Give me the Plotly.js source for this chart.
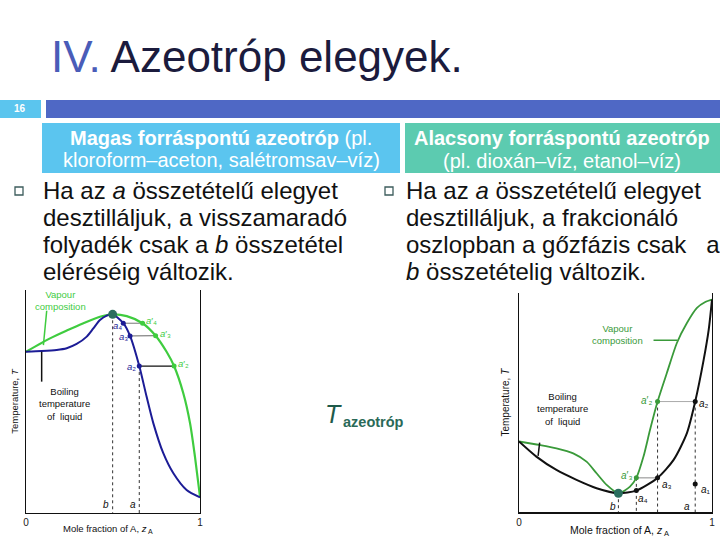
<!DOCTYPE html>
<html><head><meta charset="utf-8">
<script src="https://cdn.plot.ly/plotly-3.0.1.min.js"></script>
<style>html,body{margin:0;padding:0;background:#fff}#chart{width:720px;height:540px}</style>
</head><body><div id="chart"></div>
<script>
// ---------- data ----------
const tickVals = [0, 1];
const tickLabels = ['0', '1'];

// Left: maximum-boiling azeotrope
const leftVapX = [0, 0.138, 0.234, 0.330, 0.425, 0.498, 0.579, 0.670, 0.745, 0.808, 0.851, 0.904, 0.943, 0.971, 1.0];
const leftVapT = [0.723, 0.783, 0.818, 0.851, 0.880, 0.891, 0.883, 0.851, 0.795, 0.723, 0.659, 0.537, 0.402, 0.253, 0.073];
const leftLiqX = [0, 0.090, 0.176, 0.234, 0.291, 0.349, 0.387, 0.425, 0.464, 0.498, 0.559, 0.598, 0.651, 0.693, 0.732, 0.789, 0.847, 0.923, 1.0];
const leftLiqT = [0.723, 0.726, 0.731, 0.739, 0.758, 0.791, 0.828, 0.865, 0.885, 0.891, 0.851, 0.794, 0.659, 0.522, 0.402, 0.268, 0.178, 0.103, 0.070];
const leftAzeo = {x: 0.498, t: 0.891};
const leftLiqPtsX = [0.651, 0.598, 0.559];
const leftLiqPtsT = [0.659, 0.794, 0.851];
const leftVapPtsX = [0.851, 0.745, 0.670];
const leftVapPtsT = [0.659, 0.795, 0.851];
const leftLiqLabels = ['₂', '₃', '₄'];
const leftVapLabels = ['₂', '₃', '₄'];

// Right: minimum-boiling azeotrope
const rightLiqX = [0, 0.090, 0.194, 0.298, 0.402, 0.515, 0.608, 0.718, 0.801, 0.870, 0.913, 0.957, 0.983, 1.0];
const rightLiqT = [0.323, 0.254, 0.193, 0.148, 0.110, 0.087, 0.099, 0.157, 0.239, 0.361, 0.505, 0.696, 0.833, 0.970];
const rightVapX = [0, 0.107, 0.194, 0.281, 0.350, 0.402, 0.454, 0.515, 0.575, 0.608, 0.645, 0.679, 0.718, 0.766, 0.818, 0.870, 0.922, 0.965, 1.0];
const rightVapT = [0.323, 0.307, 0.292, 0.269, 0.231, 0.178, 0.125, 0.087, 0.117, 0.157, 0.254, 0.376, 0.505, 0.635, 0.772, 0.863, 0.932, 0.959, 0.970];
const rightAzeo = {x: 0.515, t: 0.087};
const rightLiqPtsX = [0.913, 0.718, 0.608, 0.913];
const rightLiqPtsT = [0.505, 0.157, 0.099, 0.129];
const rightLiqLabels = ['₂', '₃', '₄', '₁'];
const rightVapPtsX = [0.718, 0.608];
const rightVapPtsT = [0.505, 0.157];
const rightVapLabels = ['₂', '₃'];

// slide texts
const slideTitleBlue = 'IV.';
const slideTitleRest = 'Azeotróp elegyek.';
const slideNumber = '16';
const headLeftBold = 'Magas forráspontú azeotróp';
const headLeftRest = '(pl.';
const headLeft2 = 'kloroform–aceton, salétromsav–víz)';
const headRight1 = 'Alacsony forráspontú azeotróp';
const headRight2 = '(pl. dioxán–víz, etanol–víz)';
const bulletLeft = [['Ha az ', 'a', ' összetételű elegyet'], ['desztilláljuk, a visszamaradó'], ['folyadék csak a ', 'b', ' összetétel'], ['eléréséig változik.']];
const bulletRight = [['Ha az ', 'a', ' összetételű elegyet'], ['desztilláljuk, a frakcionáló'], ['oszlopban a gőzfázis csak\u00a0\u00a0\u00a0a'], ['', 'b', ' összetételig változik.']];
const xTitleMain = 'Mole fraction of A, ';
const xTitleVar = 'z';
const xTitleSub = 'A';
const yTitleMain = 'Temperature, ';
const yTitleVar = 'T';

// ---------- helpers ----------
const W = 720, H = 540;
const px = x => x / W, py = y => 1 - y / H;
const FONT = 'Liberation Sans, Arial, sans-serif';
const I = (s, sz) => '<i style="font-size:' + sz + 'px">' + s + '</i>';
const B = (s, sz) => '<b style="font-size:' + sz + 'px">' + s + '</b>';
const lab = (sub, prime, sz) => I('a', sz) + (prime ? '′' : '') + sub;

const GREEN_L = '#3fcc3f', BLUE_L = '#1c1c96', GREEN_R = '#3a9a3a', BLACK = '#111111', TEAL = '#2a6e5e';

const traces = [];
function line(xs, ys, color, width, dash, ax) {
  traces.push({x: xs, y: ys, mode: 'lines', type: 'scatter', xaxis: ax[0], yaxis: ax[1],
    line: {color: color, width: width, dash: dash || 'solid'}, hoverinfo: 'skip'});
}
function curve(xs, ys, color, width, ax) {
  traces.push({x: xs, y: ys, mode: 'lines', type: 'scatter', xaxis: ax[0], yaxis: ax[1],
    line: {color: color, width: width, shape: 'spline', smoothing: 0.7}, hoverinfo: 'skip'});
}
function dots(xs, ys, color, size, ax) {
  traces.push({x: xs, y: ys, mode: 'markers', type: 'scatter', xaxis: ax[0], yaxis: ax[1],
    marker: {color: color, size: size}, hoverinfo: 'skip'});
}
const L = ['x', 'y'], R = ['x2', 'y2'];

// Left chart
line([leftLiqPtsX[2], leftVapPtsX[2]], [leftLiqPtsT[2], leftVapPtsT[2]], '#777', 1, 'solid', L);
line([leftLiqPtsX[1], leftVapPtsX[1]], [leftLiqPtsT[1], leftVapPtsT[1]], '#666', 1, 'solid', L);
line([leftLiqPtsX[0], leftVapPtsX[0]], [leftLiqPtsT[0], leftVapPtsT[0]], '#111', 1.3, 'solid', L);
line([leftAzeo.x, leftAzeo.x], [leftAzeo.t, 0], '#333', 1, 'dot', L);
line([leftLiqPtsX[0], leftLiqPtsX[0]], [leftLiqPtsT[0], 0], '#333', 1, 'dot', L);
curve(leftVapX, leftVapT, GREEN_L, 2.2, L);
curve(leftLiqX, leftLiqT, BLUE_L, 2, L);
dots(leftLiqPtsX, leftLiqPtsT, BLUE_L, 5, L);
dots(leftVapPtsX, leftVapPtsT, GREEN_L, 5, L);
dots([leftAzeo.x], [leftAzeo.t], TEAL, 9, L);
line([0.119, 0.100], [0.907, 0.753], GREEN_L, 1.5, 'solid', L);
line([0.090, 0.090], [0.723, 0.589], '#111', 1.5, 'solid', L);

// Right chart
line([rightVapPtsX[0], rightLiqPtsX[0]], [rightVapPtsT[0], rightLiqPtsT[0]], '#aaa', 1, 'solid', R);
line([rightVapPtsX[1], rightLiqPtsX[1]], [rightVapPtsT[1], rightLiqPtsT[1]], '#888', 1, 'solid', R);
line([rightAzeo.x, rightAzeo.x], [rightAzeo.t, 0], '#333', 1, 'dot', R);
line([rightVapPtsX[1], rightVapPtsX[1]], [rightVapPtsT[1], 0], '#333', 1, 'dot', R);
line([rightVapPtsX[0], rightVapPtsX[0]], [rightVapPtsT[0], 0], '#333', 1, 'dot', R);
line([rightLiqPtsX[0], rightLiqPtsX[0]], [rightLiqPtsT[0], 0], '#333', 1, 'dot', R);
curve(rightVapX, rightVapT, GREEN_R, 1.8, R);
curve(rightLiqX, rightLiqT, BLACK, 2, R);
dots(rightLiqPtsX, rightLiqPtsT, BLACK, 5, R);
dots(rightVapPtsX, rightVapPtsT, GREEN_R, 5, R);
dots([rightAzeo.x], [rightAzeo.t], TEAL, 9, R);
line([0.697, 0.821], [0.784, 0.784], GREEN_R, 1.5, 'solid', R);
line([0.107, 0.099], [0.318, 0.257], '#111', 1.5, 'solid', R);

// ---------- annotations ----------
const ann = [];
function pa(text, x, y, size, color, xanchor) {
  ann.push({text: text, x: px(x), y: py(y), xref: 'paper', yref: 'paper',
    xanchor: xanchor || 'center', yanchor: 'middle', showarrow: false,
    font: {family: FONT, size: size, color: color}});
}
function da(text, x, y, ax, size, color, xanchor) {
  ann.push({text: text, x: x, y: y, xref: ax[0], yref: ax[1], xanchor: xanchor || 'center',
    yanchor: 'middle', showarrow: false, font: {family: FONT, size: size, color: color}});
}
function bline(parts, sz) {
  let s = parts[0];
  if (parts.length > 1) s += I(parts[1], sz) + parts[2];
  return s;
}

pa('<span style="color:#4a5cb8;font-size:44px">' + slideTitleBlue + '</span> ' + slideTitleRest, 49, 57, 44, '#1b1b3d', 'left');
pa(B(slideNumber, 10), 20, 109, 10, '#ffffff');
pa(B(headLeftBold, 20) + ' ' + headLeftRest, 221, 138, 20, '#ffffff');
pa(headLeft2, 221, 160, 20, '#ffffff');
pa(B(headRight1, 20), 562, 138, 20, '#ffffff');
pa(headRight2, 562, 161, 20, '#ffffff');
const by = [190, 217, 244, 271];
bulletLeft.forEach((t, i) => pa(bline(t, 24), 41, by[i], 24, '#111111', 'left'));
bulletRight.forEach((t, i) => pa(bline(t, 24), 404, by[i], 24, '#111111', 'left'));
pa(I('T', 25), 333, 414, 25, '#1e5a4a');
pa(B('azeotróp', 14.5), 341, 422, 14.5, '#2a6a58', 'left');

// x-axis titles (with subscript as a separate small text)
pa(xTitleMain + I(xTitleVar, 9.5), 149, 528, 9.5, '#111', 'right');
pa(xTitleSub, 145.5, 531, 7, '#111', 'left');
pa(xTitleMain + I(xTitleVar, 10.5), 665, 530, 10.5, '#111', 'right');
pa(xTitleSub, 661.5, 533, 7.5, '#111', 'left');

// Left chart labels
da(lab(leftLiqLabels[0], false, 9.5), 0.607, 0.659, L, 9.5, BLUE_L);
da(lab(leftLiqLabels[1], false, 9.5), 0.559, 0.791, L, 9.5, BLUE_L);
da(lab(leftLiqLabels[2], false, 9.5), 0.525, 0.843, L, 9.5, BLUE_L);
da(lab(leftVapLabels[0], true, 9.5), 0.904, 0.671, L, 9.5, GREEN_L);
da(lab(leftVapLabels[1], true, 9.5), 0.799, 0.803, L, 9.5, GREEN_L);
da(lab(leftVapLabels[2], true, 9.5), 0.722, 0.862, L, 9.5, GREEN_L);
da(I('b', 10), 0.460, 0.040, L, 10, '#111');
da(I('a', 10), 0.613, 0.040, L, 10, '#111');
da('Vapour<br>composition', 0.042, 0.951, L, 9.5, GREEN_L, 'left');
da('Boiling<br>temperature<br>of  liquid', 0.061, 0.489, L, 9.5, '#111', 'left');

// Right chart labels
da(lab(rightLiqLabels[0], false, 10), 0.957, 0.498, R, 10, '#111');
da(lab(rightLiqLabels[1], false, 10), 0.766, 0.129, R, 10, '#111');
da(lab(rightLiqLabels[2], false, 10), 0.645, 0.064, R, 10, '#111');
da(lab(rightLiqLabels[3], false, 10), 0.971, 0.105, R, 10, '#111');
da(lab(rightVapLabels[0], true, 10), 0.662, 0.510, R, 10, GREEN_R);
da(lab(rightVapLabels[1], true, 10), 0.558, 0.170, R, 10, GREEN_R);
da(I('b', 10), 0.489, 0.026, R, 10, '#111');
da(I('a', 10), 0.873, 0.026, R, 10, '#111');
da('Vapour<br>composition', 0.367, 0.813, R, 9.5, GREEN_R, 'left');
da('Boiling<br>temperature<br>of  liquid', 0.081, 0.472, R, 9.5, '#111', 'left');

// ---------- shapes (slide decoration) ----------
const shapes = [
  {type: 'rect', xref: 'paper', yref: 'paper', x0: px(0), x1: px(41), y0: py(100), y1: py(118), fillcolor: '#5bc5ee', line: {width: 0}},
  {type: 'rect', xref: 'paper', yref: 'paper', x0: px(46), x1: px(720), y0: py(100), y1: py(118), fillcolor: '#4f68c5', line: {width: 0}},
  {type: 'rect', xref: 'paper', yref: 'paper', x0: px(42), x1: px(400), y0: py(123), y1: py(173), fillcolor: '#5bc5ef', line: {width: 0}},
  {type: 'rect', xref: 'paper', yref: 'paper', x0: px(405), x1: px(720), y0: py(123), y1: py(173), fillcolor: '#5ccbb0', line: {width: 0}},
  {type: 'rect', xref: 'paper', yref: 'paper', x0: px(15), x1: px(23), y0: py(187), y1: py(195), fillcolor: '#ffffff', line: {width: 1.3, color: '#3d5c5c'}},
  {type: 'rect', xref: 'paper', yref: 'paper', x0: px(385), x1: px(393), y0: py(187), y1: py(195), fillcolor: '#ffffff', line: {width: 1.3, color: '#3d5c5c'}}
];

const xAxisBase = {range: [0, 1], showgrid: false, zeroline: false, showline: true, linecolor: '#111', linewidth: 1.3,
  ticks: '', tickmode: 'array', tickvals: tickVals, ticktext: tickLabels, tickfont: {family: FONT, size: 10, color: '#222'},
  fixedrange: true};
const yAxisBase = {range: [0, 1], showgrid: false, zeroline: false, showline: true, mirror: true, linecolor: '#111', linewidth: 1.3,
  ticks: '', showticklabels: false, fixedrange: true};

const layout = {
  width: W, height: H, margin: {l: 0, r: 0, t: 0, b: 0}, paper_bgcolor: '#fff', plot_bgcolor: 'rgba(0,0,0,0)',
  showlegend: false,
  xaxis: Object.assign({}, xAxisBase, {domain: [px(26), px(200)], anchor: 'y'}),
  yaxis: Object.assign({}, yAxisBase, {domain: [py(513), py(290)], anchor: 'x',
    title: {text: yTitleMain + I(yTitleVar, 9.5), font: {family: FONT, size: 9.5, color: '#111'}, standoff: 4}}),
  xaxis2: Object.assign({}, xAxisBase, {domain: [px(519), px(712)], anchor: 'y2'}),
  yaxis2: Object.assign({}, yAxisBase, {domain: [py(512.3), py(293)], anchor: 'x2',
    title: {text: yTitleMain + I(yTitleVar, 10), font: {family: FONT, size: 10, color: '#111'}, standoff: 6}}),
  annotations: ann,
  shapes: shapes
};

Plotly.newPlot('chart', traces, layout, {staticPlot: true, displayModeBar: false});
</script>
</body></html>
